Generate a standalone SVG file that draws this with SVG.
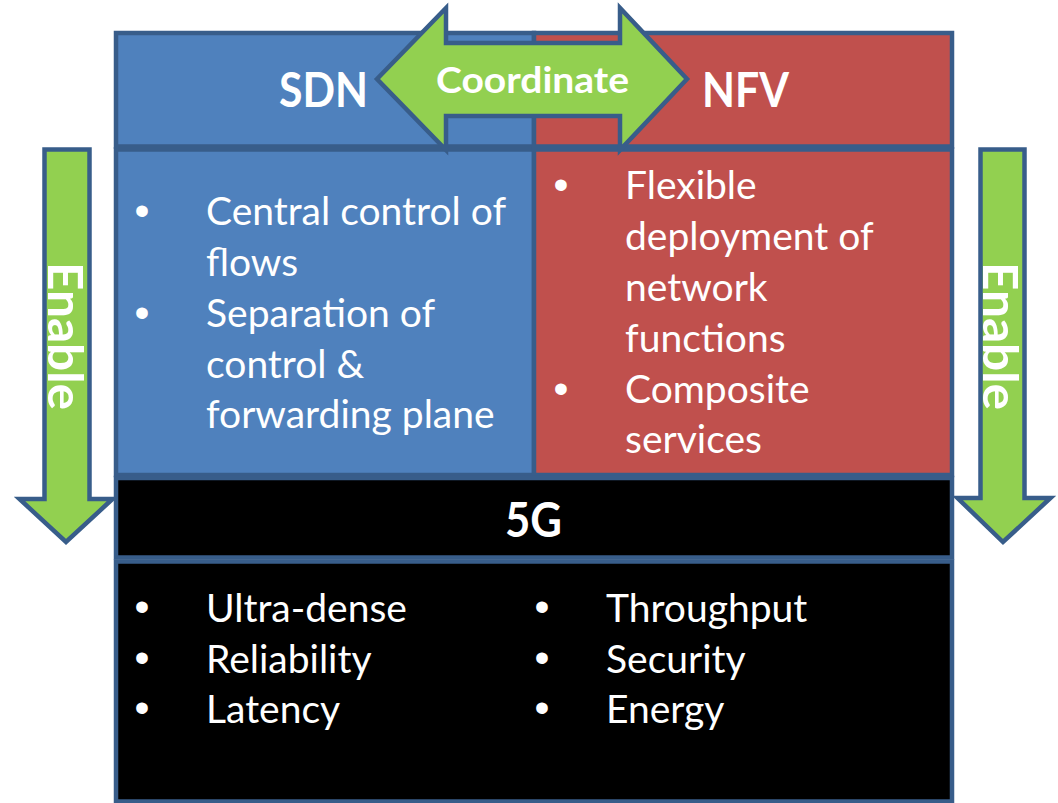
<svg xmlns="http://www.w3.org/2000/svg" width="1058" height="803" viewBox="0 0 1058 803">
  <style>
    .box { stroke: #385d8a; stroke-width: 4.5; }
    .sdn { fill: #4f81bd; }
    .nfv { fill: #c0504d; }
    .g5 { fill: #000000; }
    .arrow { fill: #92d050; stroke: #385d8a; stroke-width: 4.5; stroke-linejoin: miter; }
    .title { font-family: Lato, "Open Sans", sans-serif; font-weight: 700; fill: #ffffff; }
    .item { font-family: Lato, "Open Sans", sans-serif; font-size: 39px; fill: #ffffff; }
    .bullet { font-family: "Liberation Sans", Arial, sans-serif; font-size: 42.7px; fill: #ffffff; text-anchor: middle; }
  </style>

  <rect width="1058" height="803" fill="#ffffff"/>

  <!-- SDN column -->
  <g id="sdn-header">
    <rect class="box sdn" x="116" y="33" width="418" height="113.5"/>
    <text class="title" x="323.5" y="107" font-size="48" text-anchor="middle" textLength="89" lengthAdjust="spacingAndGlyphs">SDN</text>
  </g>
  <g id="sdn-body">
    <rect class="box sdn" x="116" y="149.5" width="418" height="325.5"/>
    <text class="bullet" x="142" y="225">•</text>
    <text class="item" x="206" y="225">Central control of</text>
    <text class="item" x="206" y="276">flows</text>
    <text class="bullet" x="142" y="327">•</text>
    <text class="item" x="206" y="327">Separation of</text>
    <text class="item" x="206" y="378">control &amp;</text>
    <text class="item" x="206" y="428">forwarding plane</text>
  </g>

  <!-- NFV column -->
  <g id="nfv-header">
    <rect class="box nfv" x="534" y="33" width="418" height="113.5"/>
    <text class="title" x="745.5" y="107" font-size="48" text-anchor="middle" textLength="87" lengthAdjust="spacingAndGlyphs">NFV</text>
  </g>
  <g id="nfv-body">
    <rect class="box nfv" x="534" y="149.5" width="418" height="325.5"/>
    <text class="bullet" x="561" y="199">•</text>
    <text class="item" x="625" y="199">Flexible</text>
    <text class="item" x="625" y="250">deployment of</text>
    <text class="item" x="625" y="301">network</text>
    <text class="item" x="625" y="352">functions</text>
    <text class="bullet" x="561" y="403">•</text>
    <text class="item" x="625" y="403">Composite</text>
    <text class="item" x="625" y="453">services</text>
  </g>

  <!-- 5G base -->
  <g id="g5-header">
    <rect class="box g5" x="116" y="478" width="836" height="79.5"/>
    <text class="title" x="533.5" y="537" font-size="48" text-anchor="middle" textLength="57" lengthAdjust="spacingAndGlyphs">5G</text>
  </g>
  <g id="g5-body">
    <rect class="box g5" x="116" y="561.5" width="836" height="240"/>
    <text class="bullet" x="142" y="621">•</text>
    <text class="item" x="206" y="622">Ultra-dense</text>
    <text class="bullet" x="142" y="672">•</text>
    <text class="item" x="206" y="673">Reliability</text>
    <text class="bullet" x="142" y="722">•</text>
    <text class="item" x="206" y="723">Latency</text>
    <text class="bullet" x="542" y="621">•</text>
    <text class="item" x="606" y="622">Throughput</text>
    <text class="bullet" x="542" y="672">•</text>
    <text class="item" x="606" y="673">Security</text>
    <text class="bullet" x="542" y="722">•</text>
    <text class="item" x="606" y="723">Energy</text>
  </g>

  <!-- Arrows between the blocks -->
  <g id="connectors">
    <g id="coordinate-arrow">
      <path class="arrow" d="M377,79 L446,8 L446,43 L620,43 L620,8 L687,79 L620,150 L620,116 L446,116 L446,150 Z"/>
      <text class="title" x="532.5" y="93" font-size="36" text-anchor="middle" textLength="193" lengthAdjust="spacingAndGlyphs">Coordinate</text>
    </g>
    <g id="enable-left">
      <path class="arrow" d="M44.5,149.5 L89.5,149.5 L89.5,499 L112.5,499 L66,542 L19.5,499 L44.5,499 Z"/>
      <text class="title" transform="translate(48,336) rotate(90)" x="0" y="0" font-size="48" text-anchor="middle" textLength="148" lengthAdjust="spacingAndGlyphs">Enable</text>
    </g>
    <g id="enable-right">
      <path class="arrow" d="M980.5,149.5 L1024.5,149.5 L1024.5,498 L1050.5,498 L1003,542 L957.5,498 L980.5,498 Z"/>
      <text class="title" transform="translate(983,336) rotate(90)" x="0" y="0" font-size="48" text-anchor="middle" textLength="148" lengthAdjust="spacingAndGlyphs">Enable</text>
    </g>
  </g>
</svg>
